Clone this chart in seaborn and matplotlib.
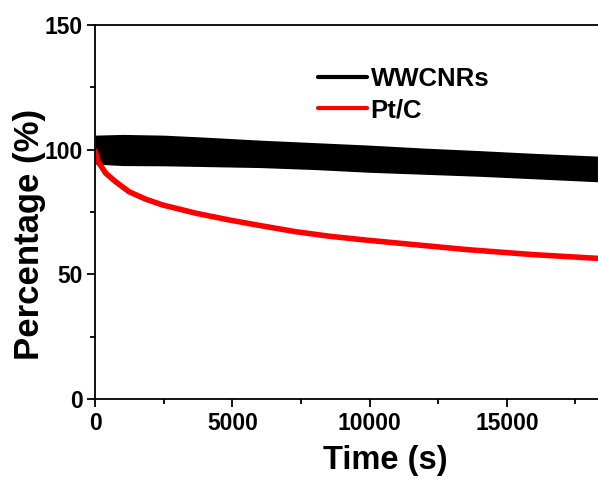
import numpy as np
import pandas as pd
import matplotlib
matplotlib.use("Agg")
import matplotlib.pyplot as plt
from matplotlib.lines import Line2D
from matplotlib.ticker import MultipleLocator
import seaborn as sns

# WWCNRs: noisy band, read as upper / lower envelope
time_band = [0, 1000, 2500, 4000, 6000, 8000, 10000, 12000, 14000, 16000, 18300]
wwcnr_upper = [105.8, 106.1, 105.8, 105.0, 103.8, 102.8, 101.8, 100.6, 99.6, 98.5, 97.4]
wwcnr_lower = [94.2, 93.6, 93.5, 93.2, 92.8, 92.0, 90.9, 90.1, 89.3, 88.3, 87.1]

# Pt/C
time_ptc = [0, 120, 390, 750, 1240, 1850, 2460, 3670, 4880, 6090, 7300, 8510,
            9800, 11050, 13550, 15950, 18300]
ptc = [99.5, 95.0, 90.5, 87.1, 83.1, 80.1, 77.8, 74.5, 71.8, 69.4, 67.1, 65.3,
       63.8, 62.5, 59.9, 57.9, 56.4]

labels = ["WWCNRs", "Pt/C"]

sns.set_style("ticks")
plt.rcParams['font.family'] = ['Liberation Sans', 'DejaVu Sans']
plt.rcParams['font.weight'] = 'bold'
plt.rcParams['axes.labelweight'] = 'bold'
plt.rcParams['text.color'] = 'black'
plt.rcParams['axes.labelcolor'] = 'black'
plt.rcParams['xtick.color'] = 'black'
plt.rcParams['ytick.color'] = 'black'
plt.rcParams['axes.edgecolor'] = 'black'

fig = plt.figure(figsize=(5.98, 4.79), dpi=100)
ax = fig.add_axes([0.159, 0.167, 0.841, 0.781])

df = pd.DataFrame({"time": time_ptc, "pct": ptc})
ax.fill_between(time_band, wwcnr_lower, wwcnr_upper, color="black", linewidth=0)
sns.lineplot(data=df, x="time", y="pct", ax=ax, color="red", linewidth=4)

ax.set_xlim(0, 18320)
ax.set_ylim(0, 150)
ax.xaxis.set_major_locator(MultipleLocator(5000))
ax.xaxis.set_minor_locator(MultipleLocator(2500))
ax.yaxis.set_major_locator(MultipleLocator(50))
ax.yaxis.set_minor_locator(MultipleLocator(25))
ax.tick_params(which="major", direction="out", length=6, width=1.3, labelsize=16.5, pad=3)
ax.tick_params(which="minor", direction="out", length=3.5, width=1.3)
for lab in ax.get_xticklabels() + ax.get_yticklabels():
    lab.set_fontweight("bold")

for s in ["left", "bottom", "top"]:
    ax.spines[s].set_linewidth(1.3)
ax.spines["right"].set_visible(False)

ax.set_xlabel("Time (s)", fontsize=23.5, fontweight="bold")
ax.set_ylabel("Percentage (%)", fontsize=25, fontweight="bold")
ax.xaxis.set_label_coords(0.5765, -0.124)
ax.yaxis.set_label_coords(-0.097, 0.441)

handles = [Line2D([], [], color="black", linewidth=3), Line2D([], [], color="red", linewidth=3)]
ax.legend(handles, labels, loc="upper left", bbox_to_anchor=(0.443, 0.887), frameon=False,
          borderaxespad=0, borderpad=0,
          prop={"size": 18.5, "weight": "bold"}, handlelength=1.9, handletextpad=0.15, labelspacing=0.28)

fig.savefig("out.png", dpi=100)
